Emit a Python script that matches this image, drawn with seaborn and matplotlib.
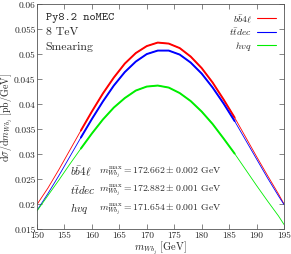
import numpy as np
import pandas as pd
import matplotlib
matplotlib.use("Agg")
import matplotlib.pyplot as plt
from matplotlib.lines import Line2D
import seaborn as sns

# values (pb/GeV)
mass = [150, 152, 154, 156, 158, 160, 162, 164, 166, 168, 170, 172,
        174, 176, 178, 180, 182, 184, 186, 188, 190, 192, 194, 195]
bb4l = [0.0199, 0.0232, 0.0269, 0.0308, 0.0347, 0.0385, 0.0421, 0.0453,
        0.0481, 0.0502, 0.0516, 0.0523, 0.0521, 0.0512, 0.0495, 0.0472,
        0.0443, 0.0409, 0.0373, 0.0334, 0.0295, 0.0257, 0.0220, 0.0200]
ttdec = [0.0187, 0.0221, 0.0257, 0.0295, 0.0333, 0.0370, 0.0405, 0.0437,
         0.0464, 0.0485, 0.0500, 0.0507, 0.0507, 0.0499, 0.0483, 0.0461,
         0.0433, 0.0401, 0.0366, 0.0328, 0.0290, 0.0252, 0.0216, 0.0199]
hvq = [0.0186, 0.0217, 0.0248, 0.0280, 0.0311, 0.0341, 0.0369, 0.0393,
       0.0412, 0.0427, 0.0435, 0.0437, 0.0433, 0.0422, 0.0406, 0.0385,
       0.0360, 0.0331, 0.0301, 0.0269, 0.0237, 0.0206, 0.0176, 0.0159]
labels = [r"$b\bar{b}4\ell$", r"$t\bar{t}dec$", r"$hvq$"]
peaks = ["172.662 \\pm 0.002", "172.882 \\pm 0.001", "171.654 \\pm 0.001"]
fit_lo, fit_hi = 158, 186

xticks = [150, 155, 160, 165, 170, 175, 180, 185, 190, 195]
yticks = [0.015, 0.02, 0.025, 0.03, 0.035, 0.04, 0.045, 0.05, 0.055, 0.06]
yticklabels = ["0.015", "0.02", "0.025", "0.03", "0.035", "0.04",
               "0.045", "0.05", "0.055", "0.06"]

sns.set_theme(style="ticks")
plt.rcParams["font.family"] = ["cmr10", "DejaVu Serif"]
plt.rcParams["mathtext.fontset"] = "cm"
plt.rcParams["axes.formatter.use_mathtext"] = True

df = pd.DataFrame({
    "m": mass * 3,
    "y": bb4l + ttdec + hvq,
    "sample": [labels[0]] * len(mass) + [labels[1]] * len(mass) + [labels[2]] * len(mass),
})
colors = {labels[0]: "#ff0000", labels[1]: "#0000ff", labels[2]: "#00ee00"}

fig = plt.figure(figsize=(2.91, 2.55), dpi=100)
ax = fig.add_axes([0.127, 0.098, 0.849, 0.882])

sns.lineplot(data=df, x="m", y="y", hue="sample", palette=colors,
             linewidth=0.6, ax=ax, legend=False)
fit = df[(df["m"] >= fit_lo) & (df["m"] <= fit_hi)]
sns.lineplot(data=fit, x="m", y="y", hue="sample", palette=colors,
             linewidth=1.4, ax=ax, legend=False)

ax.set_xlim(150, 195)
ax.set_ylim(0.015, 0.06)
ax.set_xticks(xticks)
ax.set_xticklabels([str(t) for t in xticks])
ax.set_yticks(yticks)
ax.set_yticklabels(yticklabels)
ax.tick_params(direction="in", length=3.5, width=0.5, labelsize=6.8,
               top=True, right=True, color="#555555")
ax.tick_params(axis="x", pad=1.5)
ax.tick_params(axis="y", pad=1)
for s in ax.spines.values():
    s.set_linewidth(0.6)
    s.set_color("#555555")

ax.set_xlabel(r"$m_{Wb_j}$ [GeV]", fontsize=7.5)
ax.set_ylabel(r"$\mathrm{d}\sigma/\mathrm{d}m_{Wb_j}$ [pb/GeV]", fontsize=7.2)
ax.xaxis.set_label_coords(0.5, -0.046)
ax.yaxis.set_label_coords(-0.09, 0.5)

handles = [Line2D([], [], color=colors[l], lw=0.8) for l in labels]
leg = ax.legend(handles, labels, loc="upper right", frameon=False, markerfirst=False,
                fontsize=7, handlelength=2.0, handletextpad=0.5,
                labelspacing=0.2, borderaxespad=0.4)

ax.text(0.035, 0.965, "Py8.2 noMEC", transform=ax.transAxes, fontsize=8.5,
        family=["cmtt10", "DejaVu Sans Mono"], va="top")
ax.text(0.035, 0.9, "8 TeV", transform=ax.transAxes, fontsize=8.5, va="top")
ax.text(0.035, 0.835, "Smearing", transform=ax.transAxes, fontsize=8.5, va="top")

for i, (lab, pk) in enumerate(zip(labels, peaks)):
    yy = 0.258 - i * 0.082
    ax.text(0.134, yy, lab, transform=ax.transAxes, fontsize=8, va="center")
    ax.text(0.252, yy, r"$m_{Wb_j}^{\mathrm{max}} = " + pk + r"$ GeV",
            transform=ax.transAxes, fontsize=7, va="center")

fig.savefig("out.png", dpi=100)
